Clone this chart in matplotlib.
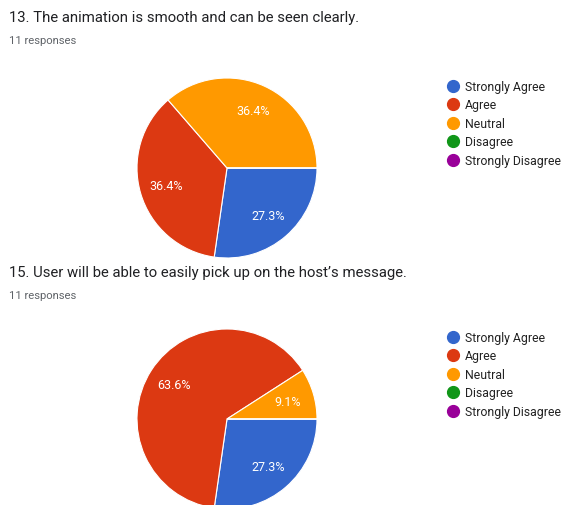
import matplotlib.pyplot as plt
from matplotlib.lines import Line2D

plt.rcParams['font.family'] = ['Roboto', 'DejaVu Sans']

categories = ['Strongly Agree', 'Agree', 'Neutral', 'Disagree', 'Strongly Disagree']
colors = ['#3366cc', '#dc3912', '#ff9900', '#109618', '#990099']

title_13 = '13. The animation is smooth and can be seen clearly.'
counts_13 = [3, 4, 4, 0, 0]
title_15 = '15. User will be able to easily pick up on the host\u2019s message.'
counts_15 = [3, 7, 1, 0, 0]
n_responses = 11

W, H = 562, 506
fig = plt.figure(figsize=(W / 100, H / 100), dpi=100)
fig.patch.set_facecolor('white')


def pct(p):
    return '%.1f%%' % p if p > 0.5 else ''


def block(title, counts, top, cy):
    # titles
    fig.text(9 / W, 1 - top / H, title, fontsize=10.7, color='#202124', va='center')
    fig.text(9 / W, 1 - (top + 23) / H, '%d responses' % n_responses,
             fontsize=8.1, color='#5f6368', va='center')
    # pie
    r = 90
    ax = fig.add_axes([(227 - r) / W, (H - cy - r) / H, 2 * r / W, 2 * r / H])
    ax.pie(counts, colors=colors, startangle=0, counterclock=False,
           autopct=pct, pctdistance=0.7,
           wedgeprops=dict(edgecolor='white', linewidth=0.8),
           textprops=dict(color='white', fontsize=9))
    ax.set_xlim(-1, 1)
    ax.set_ylim(-1, 1)
    ax.set_aspect('equal')
    ax.axis('off')
    # legend
    handles = [Line2D([], [], marker='o', linestyle='', markersize=8.5,
                      markerfacecolor=c, markeredgecolor=c) for c in colors]
    fig.legend(handles, categories, loc='upper left',
               bbox_to_anchor=(440 / W, 1 - (cy - 93) / H),
               frameon=False, fontsize=8.8, handletextpad=0.25,
               labelspacing=0.45, borderaxespad=0, handlelength=1.4,
               labelcolor='#222222')


block(title_13, counts_13, 18, 169)
block(title_15, counts_15, 273, 420)

fig.savefig('out.png', dpi=100)
